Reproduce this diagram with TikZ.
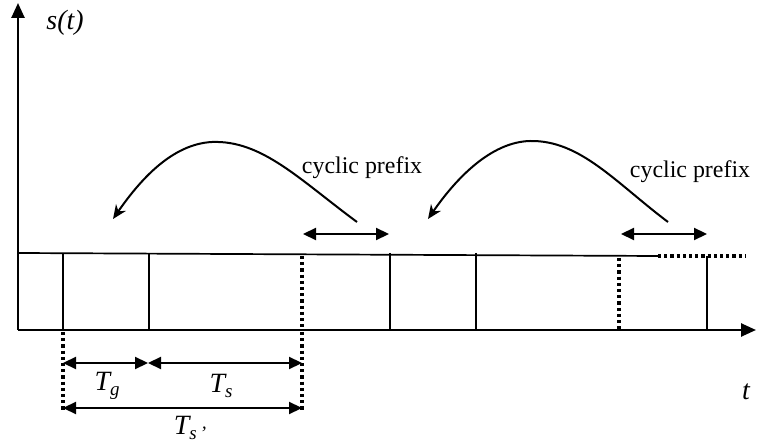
\documentclass[tikz,border=0pt]{standalone}
\usepackage{fontspec}
\setmainfont{Liberation Serif}
\usetikzlibrary{arrows.meta}
\newcommand{\symT}[1]{\textit{T}\raisebox{-0.35ex}{\fontsize{19}{19}\selectfont\itshape #1}}
\begin{document}
\begin{tikzpicture}[x=1bp, y=-1bp, line join=round,
  big/.style={-{Triangle[length=15bp, width=13bp]}},
  dim/.style={{Triangle[length=13bp, width=12bp]}-{Triangle[length=13bp, width=12bp]}},
  copyback/.style={line width=2bp, -{Stealth[length=14bp, width=12bp]}},
  slot/.style={line width=1.7bp},
  dots/.style={line width=3.5bp, dash pattern=on 3.2bp off 3bp},
  lbl/.style={font=\fontsize{24}{28}\selectfont},
  ital/.style={font=\fontsize{28}{32}\selectfont\itshape}]
\useasboundingbox (0,0) rectangle (764,445);
% ==========================================
% axes
\coordinate (O) at (18,330);
\coordinate (ytop) at (18,3);
\coordinate (xend) at (756,330);
\draw[line width=2.5bp, big] (O) -- (ytop);
\draw[line width=2.5bp, big] (O) -- (xend);
\node[ital] (st) at (65,23) {s(t)};
\node[ital] (tl) at (746,392) {t};
% ==========================================
% symbol slots
\coordinate (top0) at (18,253);
\coordinate (top1) at (658,256);
\coordinate (top2) at (746,256);
\draw[slot] (top0) -- (top1);
\draw[dots] (top1) -- (top2);
\foreach \x in {63,149,390,476} \draw[slot] (\x,253) -- (\x,330);
\draw[slot] (707,256) -- (707,330);
\draw[dots] (302,256) -- (302,330) (619,258) -- (619,330);
% ==========================================
% durations
\coordinate (a) at (63,363);
\coordinate (b) at (148,363);
\coordinate (c) at (302,363);
\coordinate (a2) at (63,408);
\coordinate (c2) at (302,408);
\draw[dots] (63,332) -- (63,412) (302,332) -- (302,412);
\draw[line width=2.2bp, dim] (a) -- (b);
\draw[line width=2.2bp, dim] (b) -- (c);
\draw[line width=2.2bp, dim] (a2) -- (c2);
\node[ital] (tg) at (107,386) {\symT{g}};
\node[ital] (ts) at (221,386) {\symT{s}};
\node[ital] (tsp) at (190,428) {\symT{s\,'}};
% ==========================================
% cyclic prefix
\draw[line width=2.2bp, dim] (303,234) -- (389,234);
\draw[line width=2.2bp, dim] (621,234) -- (707,234);
\node[lbl] (cp1) at (362,168) {cyclic prefix};
\node[lbl] (cp2) at (690,172) {cyclic prefix};
\draw[copyback] (357,222) .. controls (300,180) and (262,140) .. (212,142)
  .. controls (172,144) and (140,180) .. (113,219);
\draw[copyback] (668,222) .. controls (615,182) and (580,140) .. (530,141)
  .. controls (490,142) and (455,180) .. (428,219);
\end{tikzpicture}
\end{document}
